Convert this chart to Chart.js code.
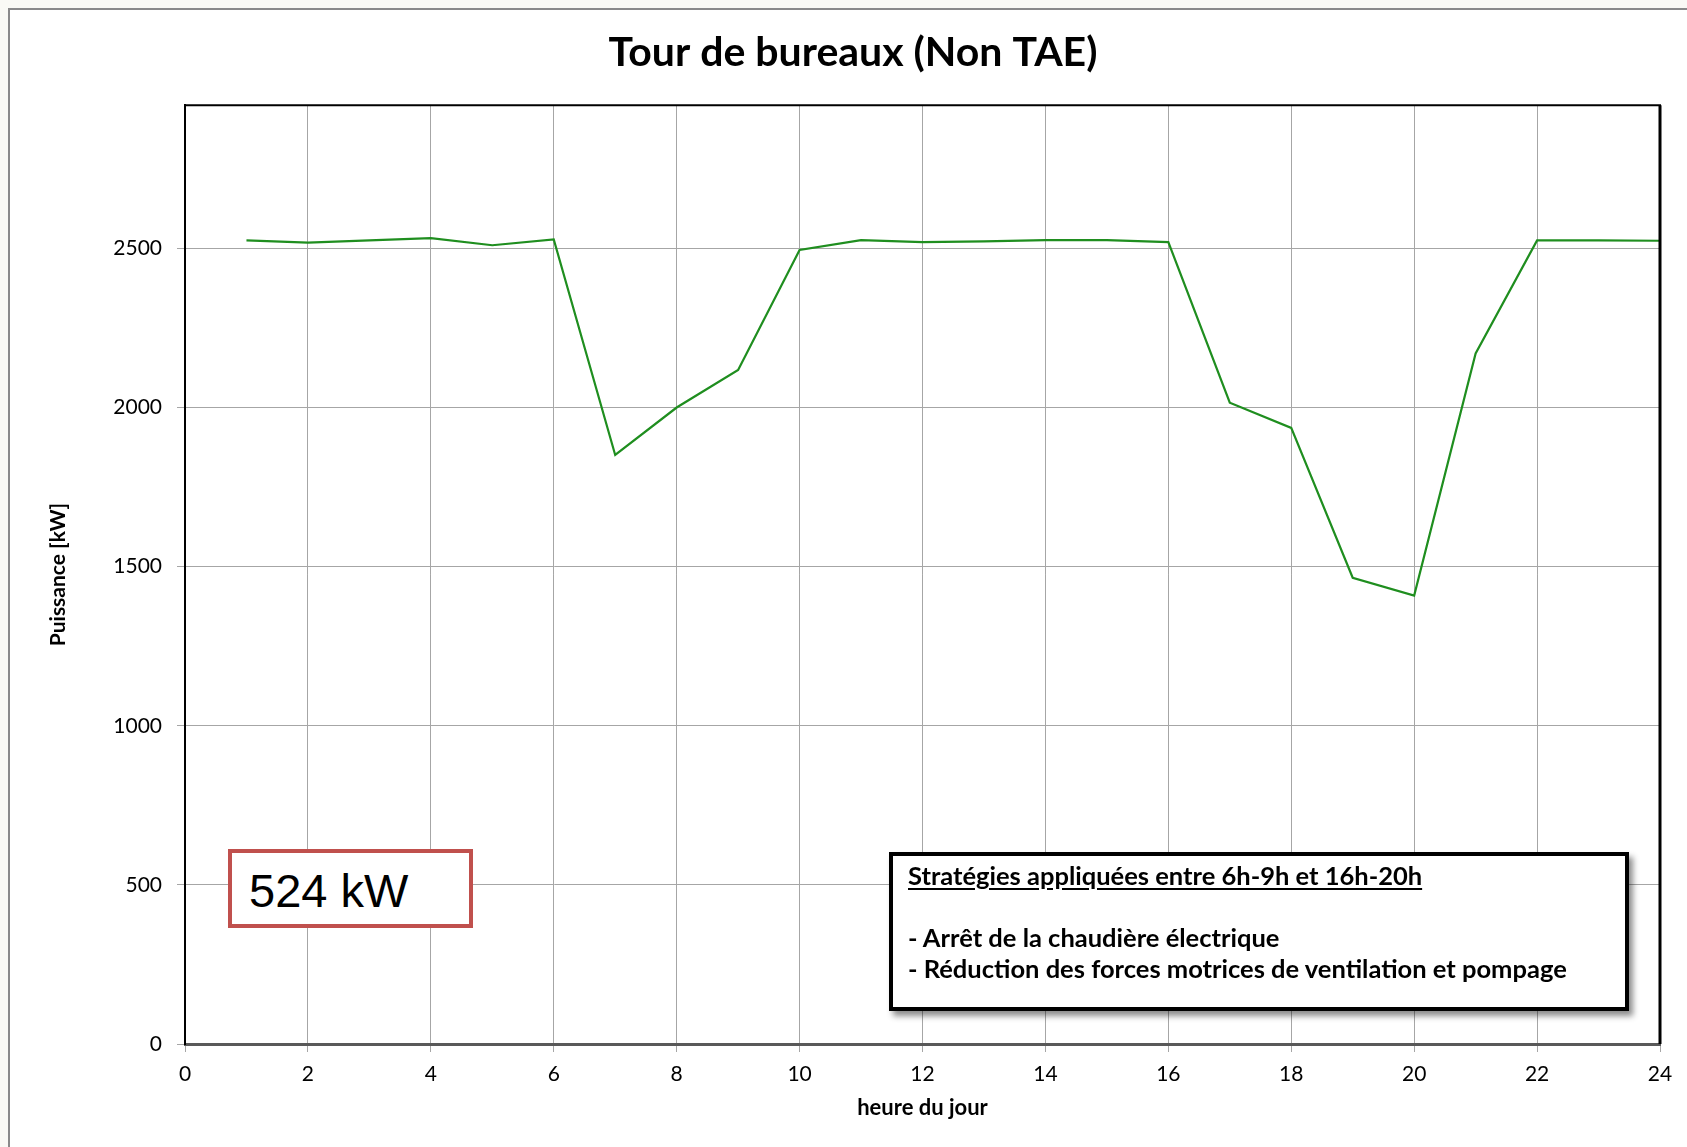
<!DOCTYPE html>
<html lang="fr">
<head>
<meta charset="utf-8">
<title>Tour de bureaux (Non TAE)</title>
<script src="https://cdn.jsdelivr.net/npm/chart.js@4.4.1/dist/chart.umd.min.js"></script>
<style>
  html, body { margin: 0; padding: 0; overflow: hidden; background: #fafaf5; }
  body { width: 1687px; height: 1147px; position: relative; font-family: Lato, sans-serif; }
  .panel { position: absolute; left: 8px; top: 8px; width: 1720px; height: 1200px; background: #fff; border: 2px solid #8a8a8a; }
  #wrap { position: absolute; left: 0; top: 0; width: 1687px; height: 1147px; }
  .note-kw {
    position: absolute; left: 228px; top: 849px; width: 245px; height: 79px; box-sizing: border-box;
    border: 4px solid #c0504d; background: #fff; padding: 2px 0 0 17px;
    font-family: "Liberation Sans", Arial, sans-serif; font-size: 47px; line-height: 71px; color: #000;
  }
  .note-strat {
    position: absolute; left: 889px; top: 852px; width: 740px; height: 159px; box-sizing: border-box;
    border: 4px solid #000; background: #fff; padding: 4px 0 0 15px;
    box-shadow: 4px 5px 6px rgba(0,0,0,0.45);
    font-family: Lato, sans-serif; font-weight: 700; font-size: 25.5px; line-height: 31px; color: #000;
    white-space: nowrap;
  }
  .note-strat u { text-underline-offset: 3px; }
</style>
</head>
<body>
<div class="panel"></div>
<div id="wrap"><canvas id="chart" width="1687" height="1147"></canvas></div>
<div class="note-kw">524 kW</div>
<div class="note-strat">
  <div><u>Stratégies appliquées entre 6h-9h et 16h-20h</u></div>
  <div>&nbsp;</div>
  <div>- Arrêt de la chaudière électrique</div>
  <div>- Réduction des forces motrices de ventilation et pompage</div>
</div>
<script>
/* ── data ── */
const hours = [1, 2, 3, 4, 5, 6, 7, 8, 9, 10, 11, 12, 13, 14, 15, 16, 17, 18, 19, 20, 21, 22, 23, 24];
const power = [2525, 2518, 2525, 2532, 2510, 2528, 1851, 2000, 2118, 2495, 2526, 2520, 2522, 2526, 2526, 2520,
               2015, 1936, 1465, 1409, 2170, 2525, 2525, 2524];
const xTicks = [0, 2, 4, 6, 8, 10, 12, 14, 16, 18, 20, 22, 24];
const yTicks = [0, 500, 1000, 1500, 2000, 2500];

/* ── top and right frame of the plot area ── */
const plotFrame = {
  id: 'plotFrame',
  afterDatasetsDraw(chart) {
    const { ctx, chartArea: a } = chart;
    ctx.save();
    ctx.strokeStyle = '#000';
    ctx.lineWidth = 2;
    ctx.beginPath();
    ctx.moveTo(a.left, a.top);
    ctx.lineTo(a.right + 1, a.top);
    ctx.stroke();
    ctx.lineWidth = 3;
    ctx.beginPath();
    ctx.moveTo(a.right, a.top);
    ctx.lineTo(a.right, a.bottom);
    ctx.stroke();
    ctx.restore();
  }
};

new Chart(document.getElementById('chart').getContext('2d'), {
  type: 'line',
  data: {
    datasets: [{
      label: 'Puissance',
      data: hours.map((h, i) => ({ x: h, y: power[i] })),
      borderColor: '#1f8e1f',
      borderWidth: 2.2,
      pointRadius: 0,
      tension: 0,
      fill: false,
    }],
  },
  options: {
    responsive: false,
    animation: false,
    layout: { padding: { left: 46, right: 27, top: 0, bottom: 0 } },
    plugins: {
      legend: { display: false },
      tooltip: { enabled: false },
      title: {
        display: true,
        text: 'Tour de bureaux (Non TAE)',
        color: '#000',
        font: { family: 'Lato', size: 41, weight: 'bold' },
        padding: { top: 28, bottom: 28 },
      },
    },
    scales: {
      x: {
        type: 'linear',
        min: 0,
        max: 24,
        afterBuildTicks: s => { s.ticks = xTicks.map(v => ({ value: v })); },
        afterFit: s => { s.height = 103; },
        ticks: { color: '#000', font: { family: 'Lato', size: 21 }, padding: 10, maxRotation: 0 },
        grid: { color: '#a6a6a6', lineWidth: 1, tickLength: 8, tickColor: '#a6a6a6' },
        border: { color: '#595959', width: 3 },
        title: {
          display: true,
          text: 'heure du jour',
          color: '#000',
          font: { family: 'Lato', size: 22, weight: 'bold' },
          padding: { top: 0, bottom: 26 },
        },
      },
      y: {
        type: 'linear',
        min: 0,
        max: 2950,
        afterBuildTicks: s => { s.ticks = yTicks.map(v => ({ value: v })); },
        afterFit: s => { s.width = 139; },
        ticks: { color: '#000', font: { family: 'Lato', size: 21 }, padding: 15, callback: v => String(v) },
        grid: { color: '#a6a6a6', lineWidth: 1, tickLength: 8, tickColor: '#a6a6a6' },
        border: { color: '#000', width: 2 },
        title: {
          display: true,
          text: 'Puissance [kW]',
          color: '#000',
          font: { family: 'Lato', size: 21, weight: 'bold' },
          padding: { top: 0, bottom: 0 },
        },
      },
    },
  },
  plugins: [plotFrame],
});
</script>
</body>
</html>
